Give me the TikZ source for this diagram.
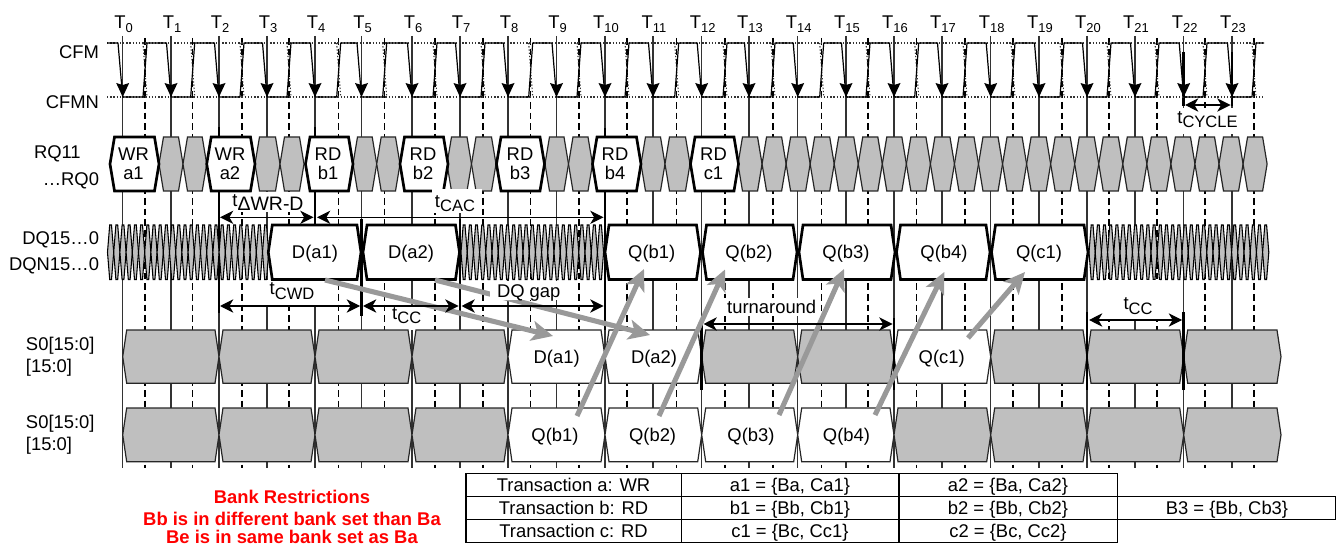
\documentclass[tikz,border=0pt]{standalone}
\usepackage{fontspec}
\setmainfont{Liberation Sans}
\usetikzlibrary{arrows.meta}
\definecolor{cellgray}{HTML}{BFBFBF}
\definecolor{arrowgray}{HTML}{999999}
\newcommand\mainsize{\fontsize{13.8}{16}\selectfont}
\newcommand\tlabel[2][12.4]{t\raisebox{-3pt}{\fontsize{#1}{14}\selectfont #2}}
\newcommand\clocklabel[1]{T\raisebox{-2.3pt}{\fontsize{9.7}{11}\selectfont #1}}
% x1,x2,top,bottom,inset,style
\newcommand\hexcell[6]{\draw[#6] ({#1},{(#3+#4)/2}) -- ({(#1)+#5},#3) -- ({(#2)-#5},#3) -- ({#2},{(#3+#4)/2}) -- ({(#2)-#5},#4) -- ({(#1)+#5},#4) -- cycle;}
\tikzset{
  txt/.style={inner sep=0pt,outer sep=0pt,anchor=base,font=\mainsize},
  rtxt/.style={txt,anchor=base east},
  ltxt/.style={txt,anchor=base west},
  redtxt/.style={txt,font=\mainsize\bfseries,text=red},
  tline/.style={line width=0.95pt,draw=black!80},
  dline/.style={line width=0.8pt,draw=black,dash pattern=on 5pt off 3pt},
  thick line/.style={line width=2pt,draw=black},
  wave/.style={line width=0.9pt,draw=black},
  dots/.style={line width=0.8pt,draw=black!80,dash pattern=on 1pt off 1.4pt},
  graycell/.style={line width=0.9pt,draw=black!85,fill=cellgray},
  whitecell/.style={line width=0.9pt,draw=black!85,fill=white},
  boldcell/.style={line width=2pt,draw=black,fill=white,line join=miter},
  squig/.style={line width=0.8pt,draw=black,fill=cellgray},
  mask/.style={fill=white,draw=none},
  dim/.style={line width=0.8pt,draw=black,{Stealth[length=10pt,width=10pt,inset=3pt]}-{Stealth[length=10pt,width=10pt,inset=3pt]}},
  flow/.style={line width=3.8pt,draw=arrowgray,-{Stealth[length=16pt,width=15pt,inset=4pt]}},
  tblcell/.style={line width=1.1pt,draw=black},
}
\begin{document}
\begin{tikzpicture}[x=0.75pt,y=-0.75pt]
\useasboundingbox (0,0) rectangle (1338,545);
% time lines
\foreach \d in {145,192.7,242,289,338.7,384.7,435,483,530.7,579,627,676.7,725,773,821.7,868,916.7,965,1013,1062,1109,1157,1205,1254}
  {\draw[dline] (\d,38) -- (\d,468);}
\foreach \t [count=\n from 0] in {122.7,171,219,267,315,361.5,412,460,508,556.5,605,653,701.7,749,797.7,846,894,942,990.7,1039,1087,1135,1183.7,1232}{
  \coordinate (Ttop\n) at (\t,36);
  \coordinate (Tbot\n) at (\t,468);
  \draw[tline] (Ttop\n) -- (Tbot\n);
  \node[txt] (Tlab\n) at ({\t+1},29) {\clocklabel{\n}};
}
% thick parts
\foreach \x/\a/\b in {219/127/313,315/127/225,361.5/219/316,460/219/313,605/128/330,701.7/323/390,894/318/390,1087/312/390,1183.7/312/390,1183.7/52/106,1232/52/106}
  {\draw[thick line] (\x,\a) -- (\x,\b);}
% clock
\draw[dots] (107,43) -- (1263,43);
\draw[dots] (107,97) -- (1263,97);
\foreach \t/\d in {122.7/145,171/192.7,219/242,267/289,315/338.7,361.5/384.7,412/435,460/483,508/530.7,556.5/579,605/627,653/676.7,701.7/725,749/773,797.7/821.7,846/868,894/916.7,942/965,990.7/1013,1039/1062,1087/1109,1135/1157,1183.7/1205,1232/1254}{
  \draw[dots] ({\d-2},43) -- ({\d+2},97);
  \fill[black] (\t,97) -- ({\t-6.5},83) -- (\t,85) -- ({\t+6.5},83) -- cycle;
}
\draw[wave,line join=round] (107,43) -- (118,43) -- (122.7,97) -- (143,97) -- (147,43)
  -- (166.5,43) -- (171,97) -- (190.7,97) -- (194.7,43)
  -- (214.5,43) -- (219,97) -- (240,97) -- (244,43)
  -- (262.5,43) -- (267,97) -- (287,97) -- (291,43)
  -- (310.5,43) -- (315,97) -- (336.7,97) -- (340.7,43)
  -- (357,43) -- (361.5,97) -- (382.7,97) -- (386.7,43)
  -- (407.5,43) -- (412,97) -- (433,97) -- (437,43)
  -- (455.5,43) -- (460,97) -- (481,97) -- (485,43)
  -- (503.5,43) -- (508,97) -- (528.7,97) -- (532.7,43)
  -- (552,43) -- (556.5,97) -- (577,97) -- (581,43)
  -- (600.5,43) -- (605,97) -- (625,97) -- (629,43)
  -- (648.5,43) -- (653,97) -- (674.7,97) -- (678.7,43)
  -- (697.2,43) -- (701.7,97) -- (723,97) -- (727,43)
  -- (744.5,43) -- (749,97) -- (771,97) -- (775,43)
  -- (793.2,43) -- (797.7,97) -- (819.7,97) -- (823.7,43)
  -- (841.5,43) -- (846,97) -- (866,97) -- (870,43)
  -- (889.5,43) -- (894,97) -- (914.7,97) -- (918.7,43)
  -- (937.5,43) -- (942,97) -- (963,97) -- (967,43)
  -- (986.2,43) -- (990.7,97) -- (1011,97) -- (1015,43)
  -- (1034.5,43) -- (1039,97) -- (1060,97) -- (1064,43)
  -- (1082.5,43) -- (1087,97) -- (1107,97) -- (1111,43)
  -- (1130.5,43) -- (1135,97) -- (1155,97) -- (1159,43)
  -- (1179.2,43) -- (1183.7,97) -- (1203,97) -- (1207,43)
  -- (1227.5,43) -- (1232,97) -- (1252,97) -- (1256,43) -- (1264,43);
% white label backings
\fill[mask] (1172,108) rectangle (1240,134);
\fill[mask] (1105,292) rectangle (1160,319);
\fill[mask] (232,192) rectangle (302,212);
\fill[mask] (265,280) rectangle (320,305);
\fill[mask] (388,305) rectangle (428,330);
\fill[mask] (724,298) rectangle (817,316);
% left labels
\node[rtxt] (lcfm) at (99,59) {CFM};
\node[rtxt] (lcfmn) at (99,108.7) {CFMN};
\node[ltxt] (lrq) at (34,159) {RQ11};
\node[rtxt] (lrqz) at (99,186) {…RQ0};
\node[rtxt] (ldq) at (99,245) {DQ15…0};
\node[rtxt] (ldqn) at (99,271) {DQN15…0};
\node[ltxt] (lsa) at (26,350.7) {S0[15:0]};
\node[ltxt] (lsb) at (26,372.7) {[15:0]};
\node[ltxt] (lsc) at (26,428) {S0[15:0]};
\node[ltxt] (lsd) at (26,450) {[15:0]};
% RQ row
\foreach \a/\b in {159/183,183/206.7,255/280,280/304,353/376.7,376.7/400,447/471.5,471.5/496,545/568.5,568.5/592.5,641/665,665/690}
  {\hexcell{\a}{\b}{137}{191}{4.5}{graycell}}
\foreach \k in {0,...,21}
  {\hexcell{738+24.05*\k}{738+24.05*(\k+1)}{137}{191}{4.5}{graycell}}
\foreach \a/\b in {110/159,206.7/255,305.5/353,400/448,496.5/544.5,592.5/641,690.5/738.5}
  {\hexcell{\a}{\b}{137}{191}{4.5}{boldcell}}
\foreach \x/\p/\q [count=\i] in {133.5/WR/a1,230/WR/a2,328/RD/b1,423/RD/b2,520/RD/b3,615/RD/b4,713.5/RD/c1}{
  \node[txt] (rqp\i) at (\x,161) {\p};
  \node[txt] (rqq\i) at (\x,180) {\q};
}
% DQ squiggles
\foreach \k in {0,...,25}
  {\hexcell{107.5+6.2*\k}{113.7+6.2*\k}{225}{279.5}{2.2}{squig}}
\foreach \k in {0,...,22}
  {\hexcell{461+6.2*\k}{467.2+6.2*\k}{225}{279.5}{2.2}{squig}}
\foreach \k in {0,...,28}
  {\hexcell{1089+6.2*\k}{1095.2+6.2*\k}{225}{279.5}{2.2}{squig}}
\fill[mask] (432,189) rectangle (482,213);
\fill[mask] (1105,280) rectangle (1160,292);
\foreach \a/\b in {268.3/361,363/459.5,605/700.5,702.5/797,799/895,896.5/990,991.5/1088}
  {\hexcell{\a}{\b}{225}{279.5}{4}{boldcell}}
\foreach \x/\s [count=\i] in {315/D(a1),411/D(a2),651.7/Q(b1),749/Q(b2),846/Q(b3),944/Q(b4),1039/Q(c1)}
  {\node[txt] (dq\i) at (\x,259) {\s};}
% S0 rows
\foreach \a/\b/\s in {122.7/219/graycell,219/315/graycell,315/412/graycell,412/508/graycell,508/605/whitecell,605/701.7/whitecell,701.7/797.7/graycell,797.7/894/graycell,894/990.7/whitecell,990.7/1087/graycell,1087/1183.7/graycell,1183.7/1281/graycell}
  {\hexcell{\a}{\b}{330}{383.3}{4}{\s}}
\foreach \a/\b/\s in {122.7/219/graycell,219/315/graycell,315/412/graycell,412/508/graycell,508/605/whitecell,605/701.7/whitecell,701.7/797.7/whitecell,797.7/894/whitecell,894/990.7/graycell,990.7/1087/graycell,1087/1183.7/graycell,1183.7/1281/graycell}
  {\hexcell{\a}{\b}{408}{461.7}{4}{\s}}
\foreach \x/\s [count=\i] in {556.7/D(a1),654/D(a2),941.7/Q(c1)}
  {\node[txt] (sa\i) at (\x,363) {\s};}
\foreach \x/\s [count=\i] in {555/Q(b1),652.6/Q(b2),751/Q(b3),846.5/Q(b4)}
  {\node[txt] (sb\i) at (\x,441.7) {\s};}
% re-draw thick parts over the S0 row
\foreach \x/\a/\b in {701.7/330/390,894/330/390,1087/330/390,1183.7/330/390}
  {\draw[thick line] (\x,\a) -- (\x,\b);}
% gray flow arrows
\coordinate (fa1) at (325,280); \coordinate (fb1) at (553,336);
\coordinate (fa2) at (435,280); \coordinate (fb2) at (650,335);
\draw[flow] (fa1) -- (fb1);
\draw[flow] (fa2) -- (fb2);
\fill[mask] (490,281) rectangle (562,300);
\coordinate (fa3) at (577,416); \coordinate (fb3) at (644,269);
\coordinate (fa4) at (659,416); \coordinate (fb4) at (725,269.5);
\coordinate (fa5) at (779,415); \coordinate (fb5) at (844,269);
\coordinate (fa6) at (875,415); \coordinate (fb6) at (944.3,272);
\coordinate (fa7) at (968,338); \coordinate (fb7) at (1025,272);
\foreach \i in {3,...,7}
  {\draw[flow] (fa\i) -- (fb\i);}
% dimension arrows
\coordinate (d1a) at (220,217.3); \coordinate (d1b) at (313.5,217.3);
\coordinate (d2a) at (317,217.3); \coordinate (d2b) at (603.5,217.3);
\coordinate (d3a) at (220,306); \coordinate (d3b) at (360,306);
\coordinate (d4a) at (363,306); \coordinate (d4b) at (458.5,306);
\coordinate (d5a) at (461.5,306); \coordinate (d5b) at (603.5,306);
\coordinate (d6a) at (703.5,324); \coordinate (d6b) at (892.5,324);
\coordinate (d7a) at (1089,320); \coordinate (d7b) at (1182,320);
\coordinate (d8a) at (1185,105); \coordinate (d8b) at (1230.5,105);
\foreach \i in {1,...,8}
  {\draw[dim] (d\i a) -- (d\i b);}
% dimension labels
\node[txt] (nwr) at (268,206.7) {\tlabel[14.6]{ΔWR-D}};
\node[txt] (ncac) at (455,207.7) {\tlabel{CAC}};
\node[txt] (ncwd) at (292,295) {\tlabel{CWD}};
\node[txt] (ncc) at (406.7,319) {\tlabel{CC}};
\node[txt] (ngap) at (528.7,297) {DQ gap};
\node[txt] (nturn) at (771.7,313) {turnaround};
\node[txt] (ncc2) at (1138,310) {\tlabel{CC}};
\node[txt] (ncyc) at (1207.5,124) {\tlabel{CYCLE}};
% restrictions
\node[redtxt] (r1) at (292,503) {Bank Restrictions};
\node[redtxt] (r2) at (292,525) {Bb is in different bank set than Ba};
\node[redtxt] (r3) at (292,543.5) {Be is in same bank set as Ba};
% table
\foreach \a/\b/\c/\d in {466/681.7/473.3/496.7,681.7/899/473.3/496.7,899/1117.5/473.3/496.7,
  466/681.7/496.7/519.7,681.7/899/496.7/519.7,899/1117.5/496.7/519.7,1117.5/1335.6/496.7/519.7,
  466/681.7/519.7/542.7,681.7/899/519.7/542.7,899/1117.5/519.7/542.7}
  {\draw[tblcell] (\a,\c) rectangle (\b,\d);}
\node[txt] (ta) at (573.5,491) {Transaction a: WR};
\node[txt] (tb) at (573.5,514) {Transaction b: RD};
\node[txt] (tc) at (573.5,537) {Transaction c: RD};
\node[txt] (ta1) at (790,491) {a1 = \{Ba, Ca1\}};
\node[txt] (tb1) at (790,514) {b1 = \{Bb, Cb1\}};
\node[txt] (tc1) at (790,537) {c1 = \{Bc, Cc1\}};
\node[txt] (ta2) at (1008,491) {a2 = \{Ba, Ca2\}};
\node[txt] (tb2) at (1008,514) {b2 = \{Bb, Cb2\}};
\node[txt] (tc2) at (1008,537) {c2 = \{Bc, Cc2\}};
\node[txt] (tb3) at (1227,514) {B3 = \{Bb, Cb3\}};
\end{tikzpicture}
\end{document}
